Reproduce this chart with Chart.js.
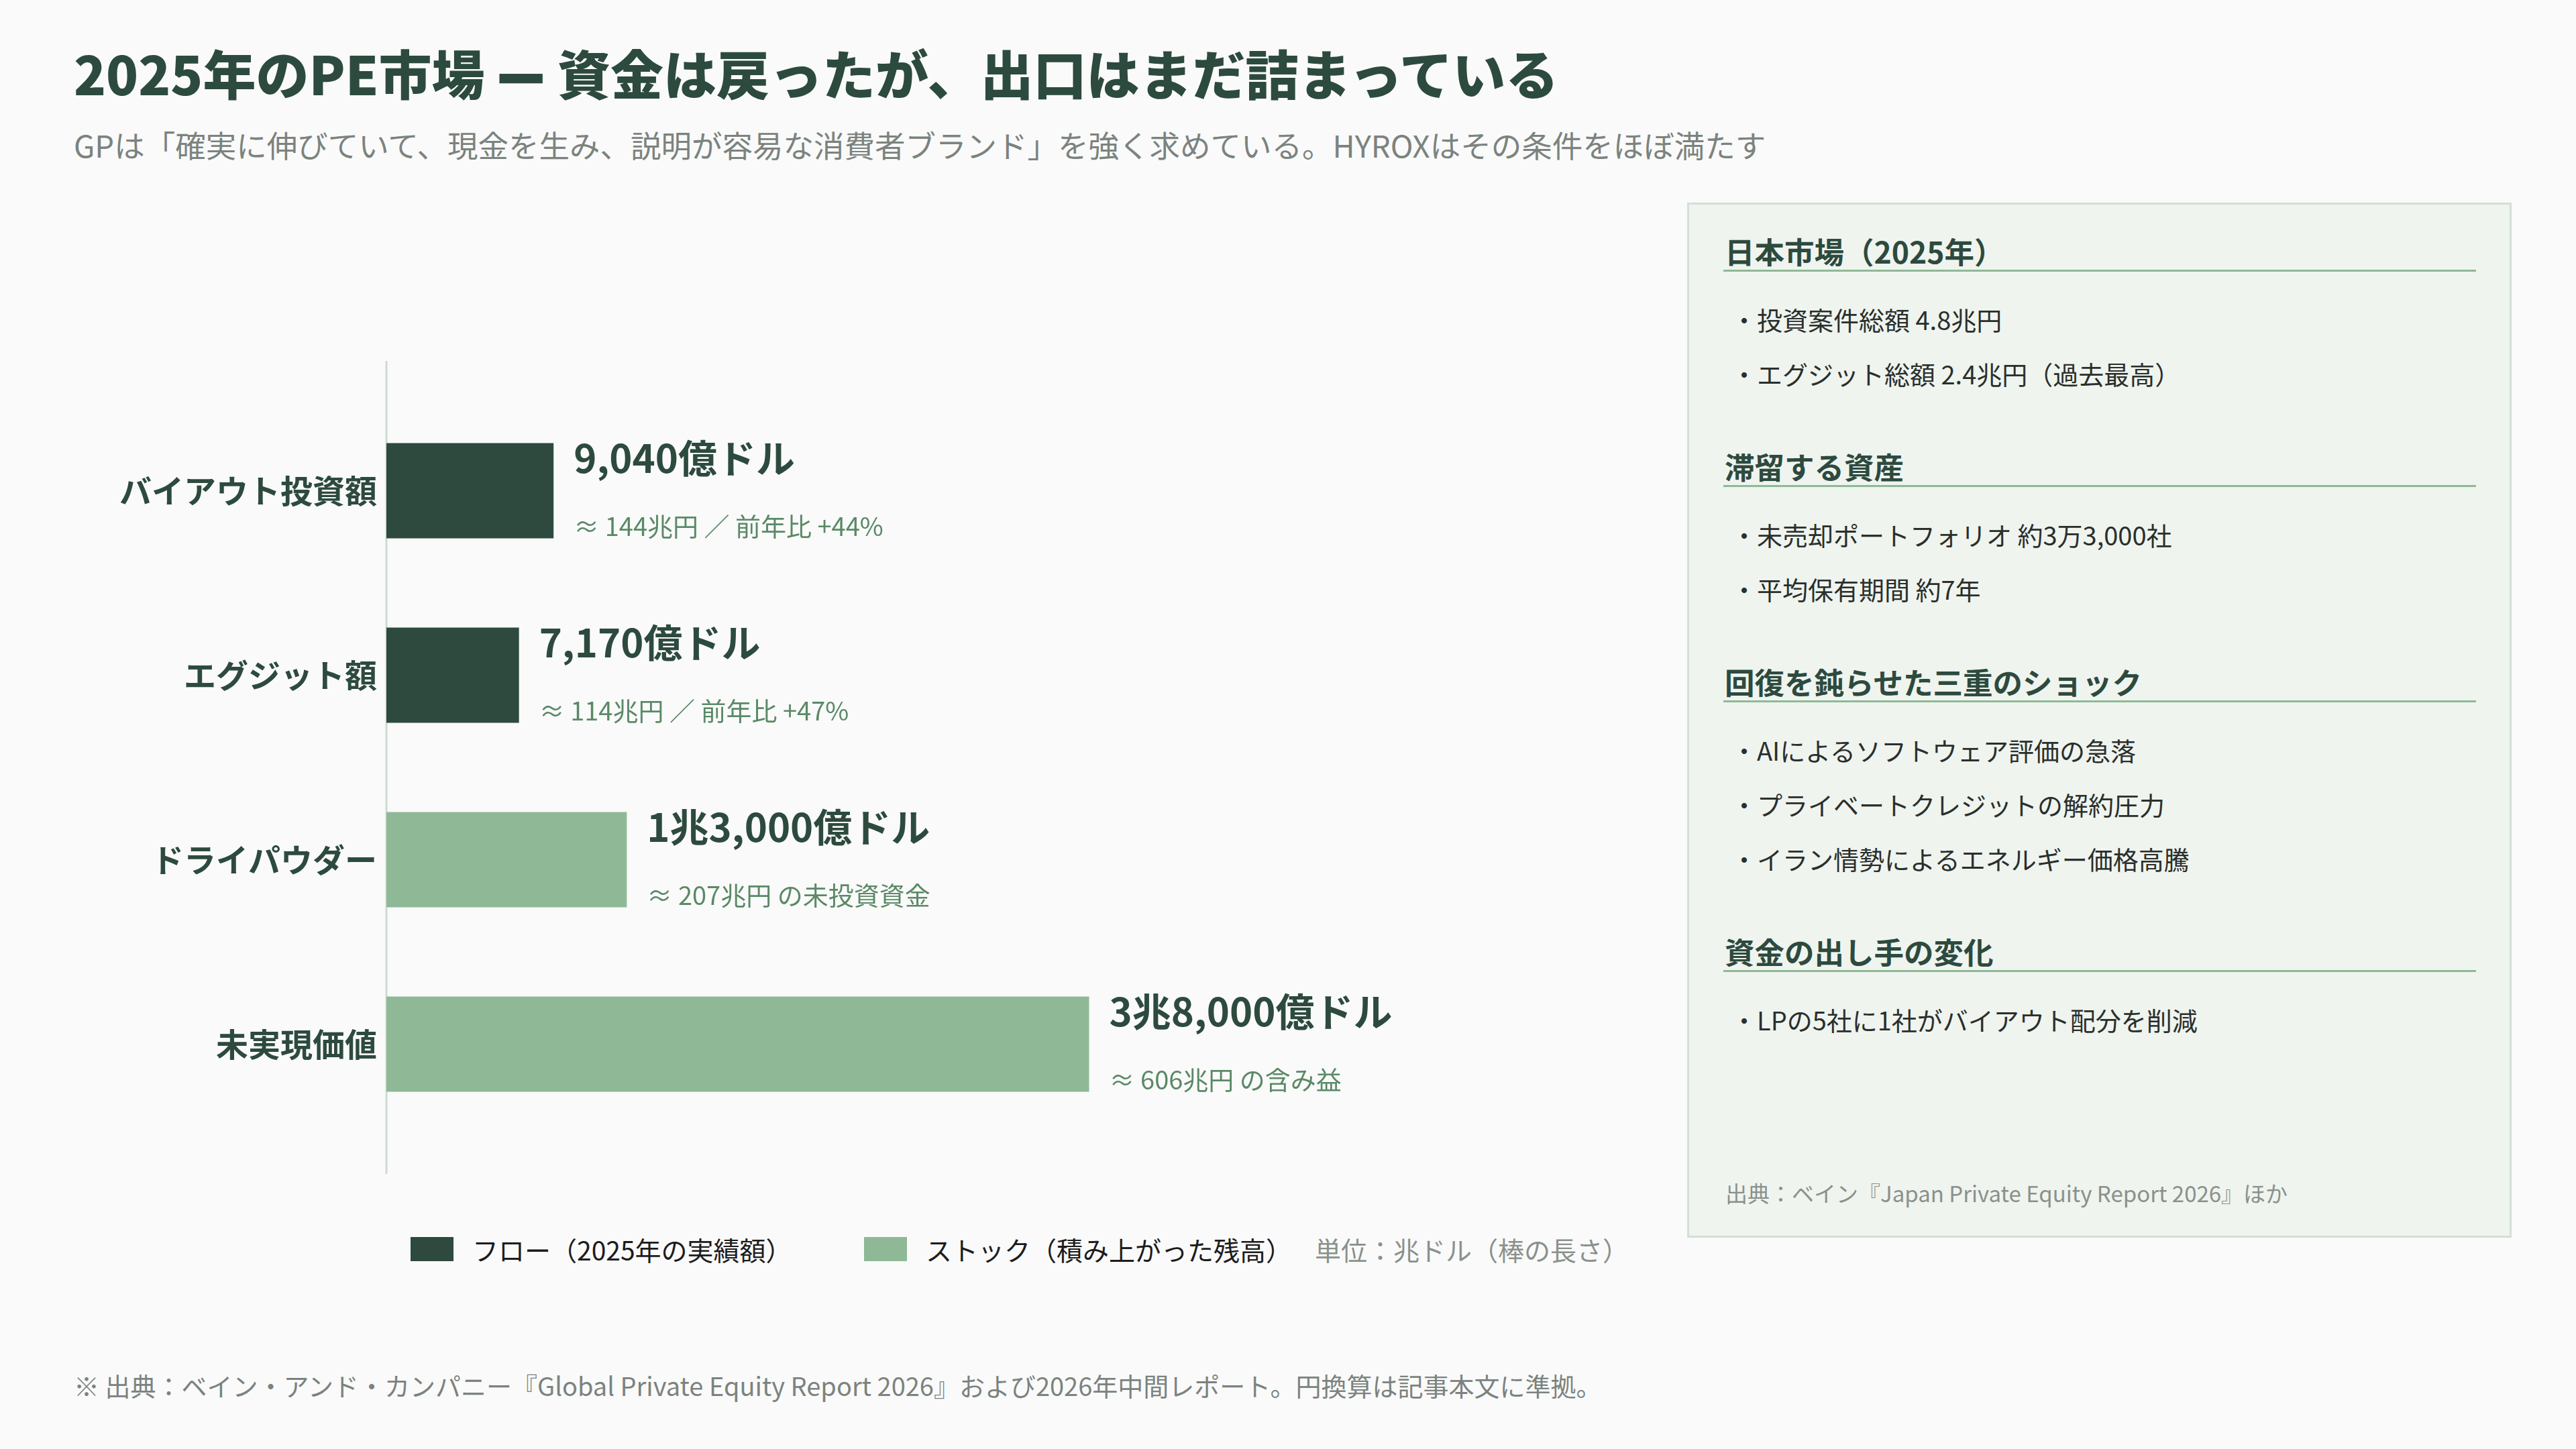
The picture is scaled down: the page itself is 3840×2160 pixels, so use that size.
<!DOCTYPE html>
<html lang="ja">
<head>
<meta charset="utf-8">
<script src="https://cdn.jsdelivr.net/npm/chart.js@4.4.1/dist/chart.umd.min.js"></script>
<style>
  html, body { margin: 0; padding: 0; }
  body {
    width: 3840px; height: 2160px; position: relative; overflow: hidden;
    background: #fafafa;
    font-family: "Noto Sans CJK JP", "Noto Sans", sans-serif;
  }
  #title {
    position: absolute; left: 110px; top: 68px;
    font-size: 79px; line-height: 79px; font-weight: 900; color: #2d4a3e;
    white-space: nowrap;
  }
  #title .dash { display: inline-block; transform: translateY(-9px) scaleY(1.6); }
  #subtitle {
    position: absolute; left: 110px; top: 192px;
    font-size: 45.5px; line-height: 46px; color: #7b837e; white-space: nowrap;
  }
  #chartWrap { position: absolute; left: 110px; top: 500px; width: 2120px; height: 1290px; }
  #legend {
    position: absolute; left: 612px; top: 1840px; height: 44px;
    display: flex; align-items: center; font-size: 39px; color: #1c1c1c; white-space: nowrap;
  }
  #legend .box { width: 64px; height: 36px; margin-right: 28px; flex: none; }
  #legend .item { display: flex; align-items: center; }
  #legend .unit { color: #8a918c; }
  #footnote {
    position: absolute; left: 110px; top: 2046px;
    font-size: 38px; line-height: 38px; color: #7b837e; white-space: nowrap;
  }
  #panel {
    position: absolute; left: 2515px; top: 302px;
    box-sizing: border-box; width: 1229px; height: 1543px;
    background: #eff4ef; border: 3px solid #d3e0d5;
    padding: 45px 50px 0 51px;
  }
  #panel h3 {
    margin: 0; font-size: 44.5px; line-height: 47px; padding-bottom: 5px; font-weight: 700; color: #2d4a3e;
    border-bottom: 3px solid #8fb996; padding-left: 2px;
  }
  #panel h3.next { margin-top: 74px; }
  #panel ul { list-style: none; margin: 30px 0 0 0; padding: 0; }
  #panel li { font-size: 38px; line-height: 81px; color: #2a2f2c; padding-left: 12px; white-space: nowrap; }
  #panelSrc {
    position: absolute; left: 54px; bottom: 44px;
    font-size: 33px; line-height: 40px; color: #8a918c; white-space: nowrap;
  }
</style>
</head>
<body>
<div id="title">2025年のPE市場 <span class="dash">—</span> 資金は戻ったが、出口はまだ詰まっている</div>
<div id="subtitle">GPは「確実に伸びていて、現金を生み、説明が容易な消費者ブランド」を強く求めている。HYROXはその条件をほぼ満たす</div>

<div id="chartWrap"><canvas id="c" width="2120" height="1290"></canvas></div>
<div id="legend"></div>

<div id="footnote">※ 出典：ベイン・アンド・カンパニー『Global Private Equity Report 2026』および2026年中間レポート。円換算は記事本文に準拠。</div>

<div id="panel"></div>

<script>
// ---- data ----
const categories = ['バイアウト投資額', 'エグジット額', 'ドライパウダー', '未実現価値'];
const flowValues = [0.904, 0.717, null, null];   // 兆ドル
const stockValues = [null, null, 1.3, 3.8];      // 兆ドル
const seriesNames = ['フロー（2025年の実績額）', 'ストック（積み上がった残高）'];
const unitNote = '単位：兆ドル（棒の長さ）';
const valueLabels = ['9,040億ドル', '7,170億ドル', '1兆3,000億ドル', '3兆8,000億ドル'];
const subLabels = ['≈ 144兆円 ／ 前年比 +44%', '≈ 114兆円 ／ 前年比 +47%', '≈ 207兆円 の未投資資金', '≈ 606兆円 の含み益'];
const xMax = 6;

const panelSections = [
  { heading: '日本市場（2025年）', items: ['・投資案件総額 4.8兆円', '・エグジット総額 2.4兆円（過去最高）'] },
  { heading: '滞留する資産', items: ['・未売却ポートフォリオ 約3万3,000社', '・平均保有期間 約7年'] },
  { heading: '回復を鈍らせた三重のショック', items: ['・AIによるソフトウェア評価の急落', '・プライベートクレジットの解約圧力', '・イラン情勢によるエネルギー価格高騰'] },
  { heading: '資金の出し手の変化', items: ['・LPの5社に1社がバイアウト配分を削減'] }
];
const panelSource = '出典：ベイン『Japan Private Equity Report 2026』ほか';

// ---- styles ----
const flowColor = '#2e4a3e';
const stockColor = '#8fb996';
const FONT = '"Noto Sans CJK JP", "Noto Sans", sans-serif';

// ---- panel ----
const panel = document.getElementById('panel');
panelSections.forEach((s, i) => {
  const h = document.createElement('h3');
  h.textContent = s.heading;
  if (i > 0) h.className = 'next';
  panel.appendChild(h);
  const ul = document.createElement('ul');
  s.items.forEach(t => { const li = document.createElement('li'); li.textContent = t; ul.appendChild(li); });
  panel.appendChild(ul);
});
const src = document.createElement('div');
src.id = 'panelSrc'; src.textContent = panelSource; panel.appendChild(src);

// ---- legend ----
const legend = document.getElementById('legend');
const legendItemWidths = [676, 672];
[[seriesNames[0], flowColor], [seriesNames[1], stockColor]].forEach(([name, col], i) => {
  const it = document.createElement('div'); it.className = 'item';
  it.style.width = legendItemWidths[i] + 'px';
  const b = document.createElement('div'); b.className = 'box'; b.style.background = col;
  const t = document.createElement('span'); t.textContent = name;
  it.appendChild(b); it.appendChild(t); legend.appendChild(it);
});
const u = document.createElement('span'); u.className = 'unit'; u.textContent = unitNote;
legend.appendChild(u);

// ---- plugins ----
const axisLine = {
  id: 'axisLine',
  beforeDatasetsDraw(chart) {
    const ctx = chart.ctx, a = chart.chartArea;
    const x = chart.scales.x.getPixelForValue(0);
    ctx.save();
    ctx.strokeStyle = '#cddbd0'; ctx.lineWidth = 3;
    ctx.beginPath(); ctx.moveTo(x, a.top - 56); ctx.lineTo(x, a.bottom + 56); ctx.stroke();
    ctx.restore();
  }
};
const valueText = {
  id: 'valueText',
  afterDatasetsDraw(chart) {
    const ctx = chart.ctx;
    ctx.save();
    categories.forEach((c, i) => {
      let el = null;
      chart.data.datasets.forEach((d, di) => {
        if (d.data[i] != null) el = chart.getDatasetMeta(di).data[i];
      });
      if (!el) return;
      const top = el.y - el.height / 2;
      const x = el.x + 30;
      ctx.textAlign = 'left'; ctx.textBaseline = 'middle';
      ctx.fillStyle = '#2d4a3e';
      ctx.font = '700 58px ' + FONT;
      ctx.fillText(valueLabels[i], x, top + 22);
      ctx.fillStyle = '#5a8966';
      ctx.font = '400 38px ' + FONT;
      ctx.fillText(subLabels[i], x, top + 124);
    });
    ctx.restore();
  }
};

new Chart(document.getElementById('c'), {
  type: 'bar',
  data: {
    labels: categories,
    datasets: [
      { label: seriesNames[0], data: flowValues, backgroundColor: flowColor, borderWidth: 0 },
      { label: seriesNames[1], data: stockValues, backgroundColor: stockColor, borderWidth: 0 }
    ]
  },
  options: {
    indexAxis: 'y',
    responsive: false,
    animation: false,
    devicePixelRatio: 1,
    layout: { padding: { top: 94, bottom: 96, left: 0, right: 0 } },
    datasets: { bar: { barPercentage: 0.516, categoryPercentage: 1.0 } },
    plugins: { legend: { display: false }, tooltip: { enabled: false } },
    scales: {
      x: { display: false, min: 0, max: xMax, stacked: true },
      y: {
        stacked: true,
        grid: { display: false, drawTicks: false },
        border: { display: false },
        ticks: { color: '#2d4a3e', padding: 14, font: { family: FONT, size: 48, weight: '700' } },
        afterFit(scale) { scale.width = 466; }
      }
    }
  },
  plugins: [axisLine, valueText]
});
</script>
</body>
</html>
